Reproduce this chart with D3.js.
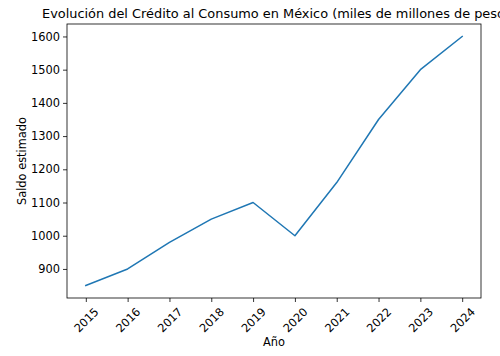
<!DOCTYPE html>
<html><head><meta charset="utf-8">
<script src="https://cdn.jsdelivr.net/npm/d3@7"></script>
<style>body{margin:0;background:#fff;} svg{display:block;font-family:"DejaVu Sans",sans-serif;}</style>
</head><body>
<svg id="c" width="500" height="356"></svg>
<script>
const years = [2015, 2016, 2017, 2018, 2019, 2020, 2021, 2022, 2023, 2024];
const values = [850, 900, 980, 1050, 1100, 1000, 1160, 1350, 1500, 1600];
const yTicks = [900, 1000, 1100, 1200, 1300, 1400, 1500, 1600];
const title = "Evolución del Crédito al Consumo en México (miles de millones de pesos)";
const xLabel = "Año";
const yLabel = "Saldo estimado";

const svg = d3.select("#c");
const L = 67, R = 481, T = 24, B = 298;
const x = d3.scaleLinear().domain([2014.55, 2024.45]).range([L, R]);
const y = d3.scaleLinear().domain([812.5, 1637.5]).range([B, T]);
const fs = 11.4;

// line
svg.append("path").datum(years.map((d,i)=>[d, values[i]]))
  .attr("fill","none").attr("stroke","#1f77b4").attr("stroke-width",1.5)
  .attr("stroke-linejoin","round").attr("stroke-linecap","square")
  .attr("d", d3.line().x(d=>x(d[0])).y(d=>y(d[1])));

// frame
svg.append("rect").attr("x",L).attr("y",T).attr("width",R-L).attr("height",B-T)
  .attr("fill","none").attr("stroke","#000").attr("stroke-width",0.8);

// y axis
const ya = svg.append("g").attr("transform",`translate(${L},0)`)
  .call(d3.axisLeft(y).tickValues(yTicks).tickSize(4).tickPadding(3).tickFormat(d3.format("d")));
ya.select(".domain").remove();
ya.selectAll("line").attr("stroke","#000").attr("stroke-width",0.8);
ya.selectAll("text").attr("font-size",fs).attr("font-family","DejaVu Sans").attr("fill","#000");

// x axis
const xa = svg.append("g").attr("transform",`translate(0,${B})`)
  .call(d3.axisBottom(x).tickValues(years).tickSize(4).tickFormat(d3.format("d")));
xa.select(".domain").remove();
xa.selectAll("line").attr("stroke","#000").attr("stroke-width",0.8);
xa.selectAll("text").attr("font-size",fs).attr("font-family","DejaVu Sans").attr("fill","#000")
  .attr("y",null).attr("dy",null)
  .attr("text-anchor","middle").attr("dominant-baseline","central")
  .attr("transform","translate(0,22) rotate(-45)");

// labels
svg.append("text").attr("x",(L+R)/2).attr("y",346).attr("text-anchor","middle")
  .attr("font-size",fs).text(xLabel);
svg.append("text").attr("transform",`translate(26,${(T+B)/2}) rotate(-90)`).attr("text-anchor","middle")
  .attr("font-size",fs).text(yLabel);
svg.append("text").attr("x",42).attr("y",18).attr("text-anchor","start")
  .attr("font-size",12.9).text(title);
</script>
</body></html>
